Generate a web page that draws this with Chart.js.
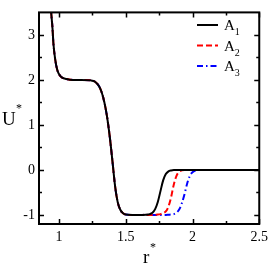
<!DOCTYPE html>
<html><head><meta charset="utf-8">
<script src="https://cdn.jsdelivr.net/npm/chart.js@4"></script>
<style>html,body{margin:0;padding:0;background:#fff;}canvas{display:block;}</style>
</head><body>
<canvas id="c" width="273" height="265"></canvas>
<script>
// Shared part of the three curves (identical for A1, A2, A3)
const rCore = [0.93, 0.941, 0.951, 0.958, 0.971, 0.988, 1.012, 1.057, 1.105, 1.17, 1.24, 1.27, 1.30, 1.32, 1.34, 1.36, 1.38, 1.40, 1.42, 1.44, 1.46, 1.48, 1.50, 1.55, 1.60, 1.65];
const uCore = [3.9, 3.5, 3.15, 2.81, 2.46, 2.21, 2.08, 2.02, 2.0, 2.0, 1.99, 1.96, 1.86, 1.72, 1.50, 1.18, 0.74, 0.20, -0.36, -0.72, -0.89, -0.96, -0.99, -1.0, -1.0, -0.995];
// Tail where the curves differ
const rTail = [1.68, 1.70, 1.72, 1.74, 1.76, 1.78, 1.80, 1.82, 1.84, 1.86, 1.88, 1.90, 1.92, 1.94, 1.96, 1.98, 2.00, 2.02, 2.05, 2.10, 2.20, 2.30, 2.40, 2.50];
const uTail1 = [-0.98, -0.95, -0.87, -0.71, -0.47, -0.23, -0.09, -0.03, -0.01, 0, 0, 0, 0, 0, 0, 0, 0, 0, 0, 0, 0, 0, 0, 0];
const uTail2 = [-1.0, -1.0, -0.995, -0.99, -0.98, -0.96, -0.92, -0.81, -0.60, -0.32, -0.13, -0.04, -0.01, 0, 0, 0, 0, 0, 0, 0, 0, 0, 0, 0];
const uTail3 = [-1.0, -1.0, -1.0, -1.0, -1.0, -1.0, -1.0, -0.995, -0.99, -0.98, -0.95, -0.88, -0.74, -0.54, -0.30, -0.13, -0.05, -0.015, 0, 0, 0, 0, 0, 0];

const seriesLabels = ['A1', 'A2', 'A3'];
const seriesColors = ['#000000', '#ff0000', '#0000ff'];
const seriesDash = [[], [6, 3], [6, 3, 1.5, 3]];

const xMajor = [1, 1.5, 2, 2.5];
const xMinor = [1.25, 1.75, 2.25];
const yMajor = [-1, 0, 1, 2, 3];
const yMinor = [-0.5, 0.5, 1.5, 2.5];
const xLabel = 'r';
const yLabel = 'U';
const FONT = 'Liberation Serif';

const rAll = rCore.concat(rTail);
const tails = [uTail1, uTail2, uTail3];
const datasets = tails.map((t, i) => {
  const u = uCore.concat(t);
  return {
    label: seriesLabels[i],
    data: rAll.map((r, k) => ({x: r, y: u[k]})),
    borderColor: seriesColors[i],
    borderDash: seriesDash[i],
    borderWidth: 2,
    pointRadius: 0,
    fill: false,
    cubicInterpolationMode: 'monotone'
  };
});

const decor = {
  id: 'decor',
  afterDraw(chart) {
    const {ctx, chartArea: a, scales: {x, y}} = chart;
    ctx.save();
    // inward ticks on all four sides
    ctx.strokeStyle = '#000';
    ctx.lineWidth = 1.5;
    ctx.beginPath();
    const xt = (v, len) => {
      const p = Math.round(x.getPixelForValue(v)) + 0.5;
      ctx.moveTo(p, a.bottom); ctx.lineTo(p, a.bottom - len);
      ctx.moveTo(p, a.top); ctx.lineTo(p, a.top + len);
    };
    const yt = (v, len) => {
      const p = Math.round(y.getPixelForValue(v)) + 0.5;
      ctx.moveTo(a.left, p); ctx.lineTo(a.left + len, p);
      ctx.moveTo(a.right, p); ctx.lineTo(a.right - len, p);
    };
    xMajor.forEach(v => xt(v, 5)); xMinor.forEach(v => xt(v, 3));
    yMajor.forEach(v => yt(v, 5)); yMinor.forEach(v => yt(v, 3));
    ctx.stroke();
    // frame
    ctx.lineWidth = 2;
    ctx.strokeRect(a.left, a.top, a.right - a.left, a.bottom - a.top);

    // axis titles
    ctx.fillStyle = '#000';
    ctx.textAlign = 'left';
    ctx.textBaseline = 'alphabetic';
    ctx.font = '19px "' + FONT + '"';
    ctx.fillText(yLabel, 2, 125);
    ctx.font = '12px "' + FONT + '"';
    ctx.fillText('*', 16, 112);
    ctx.font = '19px "' + FONT + '"';
    ctx.fillText(xLabel, 143, 263);
    ctx.font = '12px "' + FONT + '"';
    ctx.fillText('*', 150, 251);

    // legend
    const rowsY = [25, 45.5, 66];
    chart.data.datasets.forEach((ds, i) => {
      const yy = rowsY[i];
      ctx.save();
      ctx.strokeStyle = ds.borderColor;
      ctx.lineWidth = 2;
      ctx.setLineDash(ds.borderDash);
      ctx.beginPath();
      ctx.moveTo(197, yy); ctx.lineTo(218, yy);
      ctx.stroke();
      ctx.restore();
      ctx.fillStyle = '#000';
      ctx.font = '15px "' + FONT + '"';
      ctx.fillText(ds.label.charAt(0), 224, yy + 5);
      const w = ctx.measureText(ds.label.charAt(0)).width;
      ctx.font = '10px "' + FONT + '"';
      ctx.fillText(ds.label.slice(1), 224 + w, yy + 10);
    });
    ctx.restore();
  }
};

new Chart(document.getElementById('c'), {
  type: 'line',
  data: {datasets},
  plugins: [decor],
  options: {
    responsive: false,
    animation: false,
    devicePixelRatio: 1,
    layout: {padding: {top: 2, right: 10, left: 0, bottom: 0}},
    plugins: {legend: {display: false}, tooltip: {enabled: false}},
    scales: {
      x: {
        type: 'linear', min: 0.85, max: 2.5,
        afterBuildTicks(s) { s.ticks = xMajor.map(v => ({value: v})); },
        afterFit(s) { s.height = 41; },
        ticks: {padding: 5, autoSkip: false, maxRotation: 0, color: '#000',
          font: {family: FONT, size: 14}, callback: v => String(v)},
        grid: {display: false, drawTicks: false},
        border: {display: false}
      },
      y: {
        type: 'linear', min: -1.2, max: 3.5,
        afterBuildTicks(s) { s.ticks = yMajor.map(v => ({value: v})); },
        afterFit(s) { s.width = 39; },
        ticks: {padding: 4, autoSkip: false, color: '#000',
          font: {family: FONT, size: 14}, callback: v => String(v)},
        grid: {display: false, drawTicks: false},
        border: {display: false}
      }
    }
  }
});
</script>
</body></html>
